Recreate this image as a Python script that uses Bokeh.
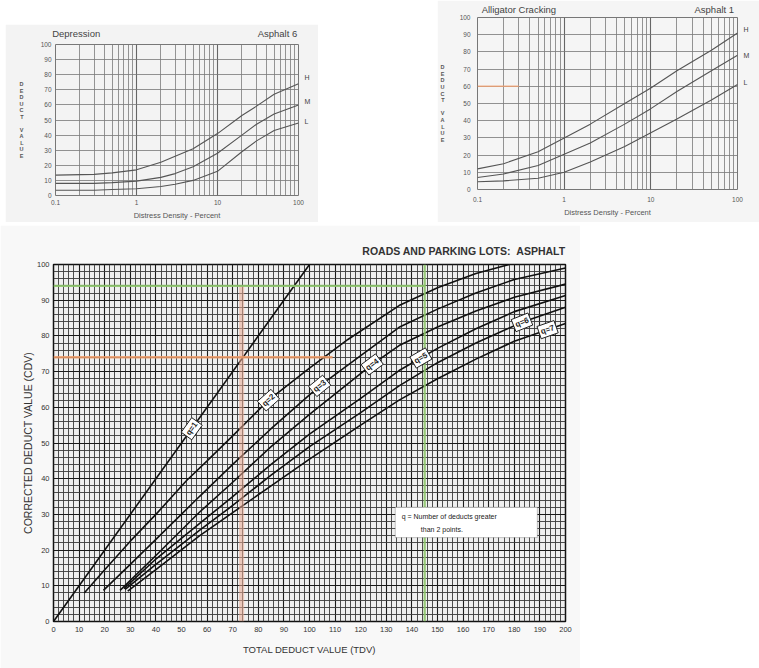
import numpy as np
from bokeh.plotting import figure
from bokeh.models import (FixedTicker, SingleIntervalTicker, Grid, Label, Arrow, BoxAnnotation,
                          CustomJSTickFormatter, Spacer, LogAxis, LinearAxis)
from bokeh.layouts import column, row
from bokeh.embed import file_html
from bokeh.resources import INLINE

FONT = "Liberation Sans"

# ---------------- data: Depression, Asphalt 6 ----------------
dep_density = [0.1, 0.3, 0.5, 1, 2, 3, 5, 10, 20, 30, 50, 100]
dep_high = [13.5, 14, 15, 17, 22, 26, 31, 41, 53, 59, 67, 74]
dep_medium = [8, 8, 8.5, 9.5, 12, 14.5, 19, 28, 40, 47, 54, 60]
dep_low = [3.5, 3.5, 4, 4.5, 6, 7.5, 10, 16, 29, 36, 43, 48]

# ---------------- data: Alligator Cracking, Asphalt 1 ----------------
all_density = [0.1, 0.2, 0.5, 1, 2, 5, 10, 20, 50, 100]
all_high = [12, 15, 22, 30, 38, 50, 59, 69, 81, 91]
all_medium = [7, 9, 14, 20.5, 27, 38, 47, 57, 69, 78]
all_low = [4.5, 5, 6.5, 10, 16, 25, 33, 41, 52, 61]

severity_names = ["H", "M", "L"]
log_major_ticks = [0.1, 1, 10, 100]
log_minor_ticks = [k * 10.0 ** e for e in (-1, 0, 1) for k in range(2, 10)]
dv_ticks = list(range(0, 101, 10))
ylabel_letters = "DEDUCT VALUE"
alligator_read_dv = 60
alligator_read_density = 0.3

# ---------------- data: CDV curves, roads and parking lots ----------------
q1_tdv = [0, 100]
q1_cdv = [0, 100]
q2_tdv = [12, 20, 30, 40, 52, 60, 70, 84, 100, 115, 135, 150, 165, 178]
q2_cdv = [8, 14.5, 22.5, 30, 39.5, 45, 52, 62, 71, 79, 88.5, 93.5, 97.5, 100]
q3_tdv = [19.5, 30, 40, 57, 70, 85, 104, 120, 135, 150, 165, 180, 200]
q3_cdv = [8.7, 16, 23, 35, 44, 54, 66, 74.5, 82.4, 87.5, 92, 95.8, 99]
q4_tdv = [26, 40, 57, 70, 85, 100, 124.5, 135, 150, 165, 180, 200]
q4_cdv = [8.7, 18.5, 30.6, 39, 49, 58, 72, 77.3, 82.5, 87, 90.8, 94.5]
q5_tdv = [27.5, 40, 57, 70, 85, 100, 120, 135, 150, 165, 180, 200]
q5_cdv = [9.2, 17.5, 27.4, 35, 44, 52.5, 62.5, 70.3, 76.5, 82, 86.8, 91.3]
q6_tdv = [28, 40, 57, 70, 85, 100, 120, 135, 150, 165, 183, 200]
q6_cdv = [9, 16, 25.5, 32.5, 41, 49, 58.5, 66, 72.5, 78, 83.8, 88]
q7_tdv = [29, 40, 57, 70, 85, 100, 120, 135, 150, 165, 180, 200]
q7_cdv = [8.5, 14.5, 24, 30.5, 38, 45.5, 55, 62, 68, 73.5, 78.5, 83.5]
q_values = [1, 2, 3, 4, 5, 6, 7]
q_label_tdv = [54, 84, 104, 124.5, 143.5, 183, 193]
legend_line1 = "q = Number of deducts greater"
legend_line2 = "than 2 points."
orange_tdv, orange_cdv, orange_end_tdv = 73.5, 74, 109
green_tdv, green_cdv = 145, 94


def no_ticks(ax):
    ax.axis_line_color = None
    ax.major_tick_line_color = None
    ax.minor_tick_line_color = None
    ax.major_tick_out = 0
    ax.major_tick_in = 0
    ax.minor_tick_out = 0
    ax.minor_tick_in = 0


def text_axis(cls, ticks, labels, standoff, size, color="#444", style="normal"):
    ax = cls(ticker=FixedTicker(ticks=ticks),
             formatter=CustomJSTickFormatter(args=dict(labels=labels), code="return labels[index]"),
             major_label_standoff=standoff, major_label_text_font=FONT,
             major_label_text_font_size=size, major_label_text_color=color,
             major_label_text_font_style=style)
    no_ticks(ax)
    return ax


def log_chart(width, height, left, right, top, bottom, bg, ystandoff, xstandoff):
    p = figure(width=width, height=height, x_axis_type="log", x_range=(0.1, 100),
               y_range=(0, 100), output_backend="svg", toolbar_location=None,
               min_border_left=left, min_border_right=right, min_border_top=top,
               min_border_bottom=bottom, background_fill_color=bg, border_fill_color=bg)
    p.xaxis.ticker = FixedTicker(ticks=log_major_ticks)
    p.xaxis.formatter = CustomJSTickFormatter(code="return String(tick)")
    p.yaxis.ticker = FixedTicker(ticks=dv_ticks)
    for ax in (p.xaxis[0], p.yaxis[0]):
        no_ticks(ax)
        ax.major_label_text_font = FONT
        ax.major_label_text_font_size = "6.5px"
        ax.major_label_text_color = "#555"
    p.yaxis.major_label_standoff = ystandoff
    p.xaxis.major_label_standoff = xstandoff
    p.xaxis.axis_label = "Distress Density - Percent"
    p.xaxis.axis_label_text_font = FONT
    p.xaxis.axis_label_text_font_size = "7.5px"
    p.xaxis.axis_label_text_font_style = "normal"
    p.xaxis.axis_label_text_color = "#555"
    p.xaxis.axis_label_standoff = 3
    p.xgrid.grid_line_color = "#666"
    p.xgrid.grid_line_width = 1.1
    p.ygrid.grid_line_color = "#777"
    p.ygrid.grid_line_width = 0.8
    p.add_layout(Grid(dimension=0, ticker=FixedTicker(ticks=log_minor_ticks),
                      grid_line_color="#7a7a7a", grid_line_width=0.8))
    p.outline_line_color = "#777"
    return p


def add_log_texts(p, titles, title_pos, title_standoff, letter_step, letter_standoff,
                  curves, density, end_offsets):
    p.add_layout(text_axis(LogAxis, title_pos, titles, title_standoff, "9.5px"), "above")
    # stacked vertical axis title, one letter per line
    n = len(ylabel_letters)
    pos = [50 + ((n - 1) / 2 - i) * letter_step for i in range(n)]
    p.add_layout(text_axis(LinearAxis, pos[::-1], list(ylabel_letters[::-1]),
                           letter_standoff, "5.5px", "#555", "bold"), "left")
    ends = []
    for vals, off in zip(curves, end_offsets):
        p.line(density, vals, line_color="#555", line_width=1.1)
        ends.append(vals[-1] + off)
    p.add_layout(text_axis(LinearAxis, ends[::-1], severity_names[::-1], 6, "7px"), "right")


# ---- top-left chart ----
p1 = log_chart(313, 198, 50, 20, 19, 26, "#f3f3f3", 4, 4)
add_log_texts(p1, ["Depression", "Asphalt 6"], [0.18, 55], 6, 4.3, 14,
              [dep_high, dep_medium, dep_low], dep_density, [4, 2, 1])

# ---- top-right chart ----
p2 = log_chart(322, 222, 40, 22, 17, 33, "#f5f5f5", 7, 7)
add_log_texts(p2, ["Alligator Cracking", "Asphalt 1"], [0.3, 54], 3, 3.85, 12,
              [all_high, all_medium, all_low], all_density, [2, 0, 1])
p2.add_layout(Arrow(end=None, x_start=0.1, y_start=alligator_read_dv,
                    x_end=alligator_read_density, y_end=alligator_read_dv,
                    line_color="#f0a070", line_width=1.5, line_alpha=0.8))

# ---- bottom chart ----
W3, H3, L3, R3, T3, B3 = 580, 443, 53, 15, 39, 47
p3 = figure(width=W3, height=H3, x_range=(0, 200), y_range=(0, 100),
            output_backend="svg", toolbar_location=None,
            min_border_left=L3, min_border_right=R3, min_border_top=T3, min_border_bottom=B3,
            background_fill_color="#efefef", border_fill_color="#f8f8f8")
p3.title.text = "ROADS AND PARKING LOTS:\u00a0\u00a0ASPHALT"
p3.title.align = "right"
p3.title.text_font = FONT
p3.title.text_font_size = "10.5px"
p3.title.text_font_style = "bold"
p3.title.text_color = "#333"
p3.title.standoff = 16
p3.xaxis.ticker = SingleIntervalTicker(interval=10, num_minor_ticks=5)
p3.yaxis.ticker = SingleIntervalTicker(interval=10, num_minor_ticks=5)
p3.xaxis.axis_label = "TOTAL DEDUCT VALUE (TDV)"
p3.yaxis.axis_label = "CORRECTED DEDUCT VALUE (CDV)"
for ax in (p3.xaxis[0], p3.yaxis[0]):
    no_ticks(ax)
    ax.major_label_text_font = FONT
    ax.major_label_text_font_size = "7.5px"
    ax.major_label_text_color = "#333"
    ax.axis_label_text_font = FONT
    ax.axis_label_text_font_style = "normal"
    ax.axis_label_text_color = "#333"
p3.xaxis.major_label_standoff = 5
p3.yaxis.major_label_standoff = 4
p3.xaxis.axis_label_text_font_size = "9.5px"
p3.xaxis.axis_label_standoff = 9
p3.yaxis.axis_label_text_font_size = "10.5px"
p3.yaxis.axis_label_standoff = 0
for g in (p3.xgrid[0], p3.ygrid[0]):
    g.grid_line_color = "#1a1a1a"
    g.grid_line_width = 1.1
    g.minor_grid_line_color = "#3a3a3a"
    g.minor_grid_line_width = 0.9
p3.outline_line_color = "#111"
p3.outline_line_width = 1.5

# reading lines
p3.add_layout(Arrow(end=None, x_start=orange_tdv, y_start=green_cdv, x_end=orange_tdv, y_end=0,
                    line_color="#e8a890", line_width=5, line_alpha=0.55))
p3.add_layout(Arrow(end=None, x_start=0, y_start=orange_cdv, x_end=orange_end_tdv,
                    y_end=orange_cdv, line_color="#ef9a66", line_width=2.5, line_alpha=0.85))
p3.add_layout(Arrow(end=None, x_start=0, y_start=green_cdv, x_end=green_tdv,
                    y_end=green_cdv, line_color="#8cc46a", line_width=2.2, line_alpha=0.9))
p3.add_layout(Arrow(end=None, x_start=green_tdv, y_start=100, x_end=green_tdv,
                    y_end=0, line_color="#8cc46a", line_width=2.2, line_alpha=0.9))

curves = [(q1_tdv, q1_cdv), (q2_tdv, q2_cdv), (q3_tdv, q3_cdv), (q4_tdv, q4_cdv),
          (q5_tdv, q5_cdv), (q6_tdv, q6_cdv), (q7_tdv, q7_cdv)]
ppx = (W3 - L3 - R3) / 200.0
ppy = (H3 - T3 - B3) / 100.0
for (tx, ty) in curves:
    p3.line(tx, ty, line_color="#111", line_width=1.6)
for q, (tx, ty), lx in zip(q_values, curves, q_label_tdv):
    ly = float(np.interp(lx, tx, ty))
    slope = (np.interp(lx + 4, tx, ty) - np.interp(lx - 4, tx, ty)) / 8.0
    ang = float(np.arctan(slope * ppy / ppx))
    p3.add_layout(Label(x=lx, y=ly, text=f"q={q}", angle=ang, text_align="center",
                        text_baseline="middle", text_font=FONT, text_font_size="8px",
                        text_font_style="bold", text_color="#222",
                        background_fill_color="white", border_line_color="#222",
                        border_line_width=1, padding=2))
p3.add_layout(BoxAnnotation(left=133.5, right=189, bottom=23.5, top=32,
                            fill_color="white", fill_alpha=1, line_color="#444", line_width=1))
p3.add_layout(Label(x=136, y=30.5, text=legend_line1, text_align="left", text_baseline="top",
                    text_font=FONT, text_font_size="7px", text_color="#222"))
p3.add_layout(Label(x=143.5, y=26.8, text=legend_line2, text_align="left", text_baseline="top",
                    text_font=FONT, text_font_size="7px", text_color="#222"))

top = row(Spacer(width=5, height=225),
          column(Spacer(width=313, height=24), p1, Spacer(width=313, height=3)),
          Spacer(width=119, height=225),
          column(p2, Spacer(width=322, height=3)))
layout = column(top, p3)

open("out.html", "w").write(file_html(layout, INLINE))
